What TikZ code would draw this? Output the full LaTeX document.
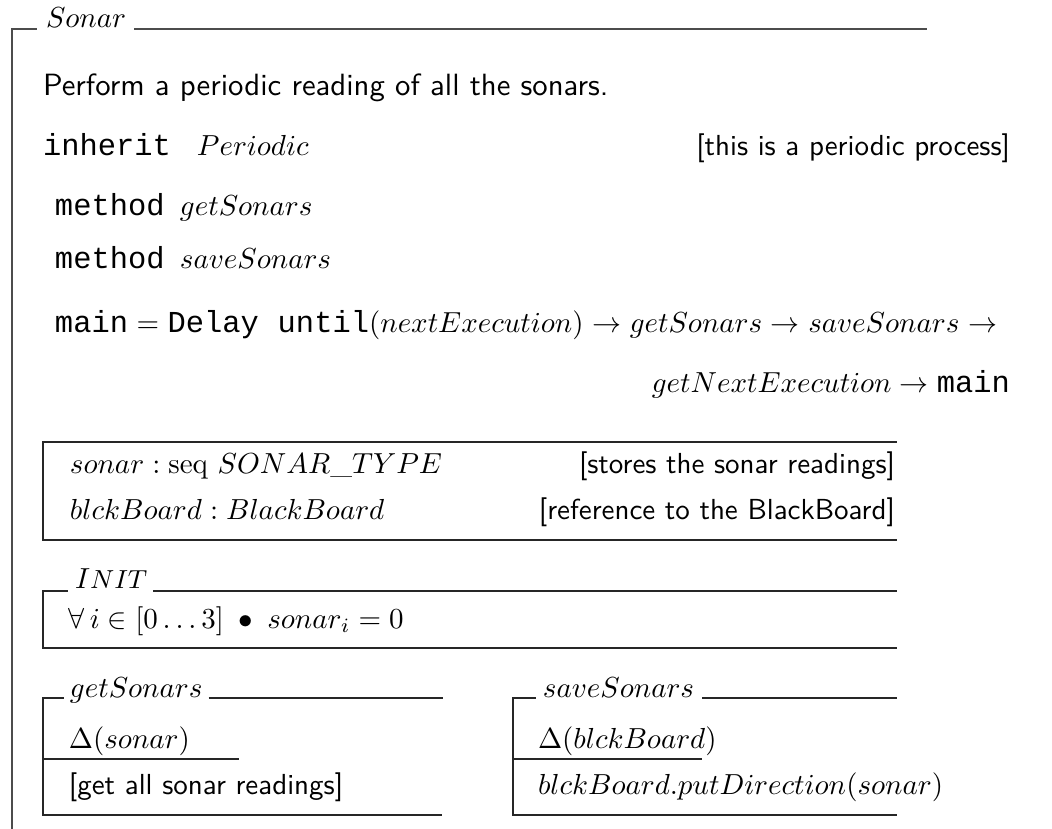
\documentclass[tikz,border=0pt]{standalone}
\usepackage{fontspec}
\newfontfamily\courfont[Scale=1.05]{Liberation Mono}
\begin{document}
\begin{tikzpicture}[x=0.345pt,y=-0.345pt,
  frame/.style={line width=0.75pt, draw=black!70},
  rule/.style={line width=0.45pt, draw=black!85},
  txt/.style={inner sep=0pt, outer sep=0pt, anchor=base west},
  txtr/.style={inner sep=0pt, outer sep=0pt, anchor=base east},
  cmt/.style={txtr, font=\sffamily}]
\useasboundingbox (0,0) rectangle (1052,829);

% ---- class frame -------------------------------------------------
\node[txt] (tSonar) at (46,27) {$Sonar$};
\draw[frame] (12,829) -- (12,29) -- ([shift={(-9,2)}]tSonar.base west);
\draw[frame] ([shift={(8,2)}]tSonar.base east) -- (927,29);

\node[txt, font=\sffamily\fontsize{10.6pt}{12pt}\selectfont] (descr) at (43,95) {Perform a periodic reading of all the sonars.};

\node[txt] (kInherit) at (43,155) {\courfont inherit};
\node[txt] (nPeriodic) at (197,155) {$Periodic$};
\node[cmt] (cPeriodic) at (1010,155) {[this is a periodic process]};

\node[txt] (kMeth1) at (55,215) {\courfont method};
\node[txt] (nMeth1) at (180,215) {$getSonars$};
\node[txt] (kMeth2) at (55,268) {\courfont method};
\node[txt] (nMeth2) at (180,268) {$saveSonars$};

% first line of the main definition is set justified, as in a broken paragraph
\node[txt] (mainA) at (55,332) {\hbox to 325pt{{\courfont main}${}={}${\courfont Delay until}$(nextExecution) \rightarrow getSonars \rightarrow saveSonars \rightarrow$}};
\node[txtr] (mainB) at (1010,392) {$getNextExecution \rightarrow{}${\courfont main}};

% ---- state schema ------------------------------------------------
\draw[rule] (897,442) -- (43,442) -- (43,540) -- (897,540);
\node[txt] (s1) at (70,473) {$sonar : \mathrm{seq}\ SONAR\_TYPE$};
\node[txt] (s2) at (70,519) {$blckBoard : BlackBoard$};
\node[cmt] (c1) at (895,473) {[stores the sonar readings]};
\node[cmt] (c2) at (895,519) {[reference to the BlackBoard]};

% ---- INIT schema -------------------------------------------------
\node[txt] (tInit) at (75,588) {$I${\small$NIT$}};
\draw[rule] ([shift={(-7,3)}]tInit.base west) -- (43,591) -- (43,648) -- (897,648);
\draw[rule] ([shift={(6,3)}]tInit.base east) -- (897,591);
\node[txt] (init) at (69,628) {$\forall\, i \in [0 \ldots 3] \;\bullet\; sonar_i = 0$};

% ---- getSonars operation -----------------------------------------
\node[txt] (tGet) at (70,697) {$getSonars$};
\draw[rule] ([shift={(-6,1)}]tGet.base west) -- (43,698) -- (43,815) -- (442,815);
\draw[rule] ([shift={(6,1)}]tGet.base east) -- (443,698);
\draw[rule] (43,759) -- (239,759);
\node[txt] (gDelta) at (69,748) {$\Delta(sonar)$};
\node[txt, font=\sffamily] (gBody) at (69,794) {[get all sonar readings]};

% ---- saveSonars operation ----------------------------------------
\node[txt] (tSave) at (543,697) {$saveSonars$};
\draw[rule] ([shift={(-7,1)}]tSave.base west) -- (513,698) -- (513,815) -- (897,815);
\draw[rule] ([shift={(8,1)}]tSave.base east) -- (897,698);
\draw[rule] (513,759) -- (702,759);
\node[txt] (sDelta) at (538,748) {$\Delta(blckBoard)$};
\node[txt] (sBody) at (538,794) {$blckBoard.putDirection(sonar)$};
\end{tikzpicture}
\end{document}
